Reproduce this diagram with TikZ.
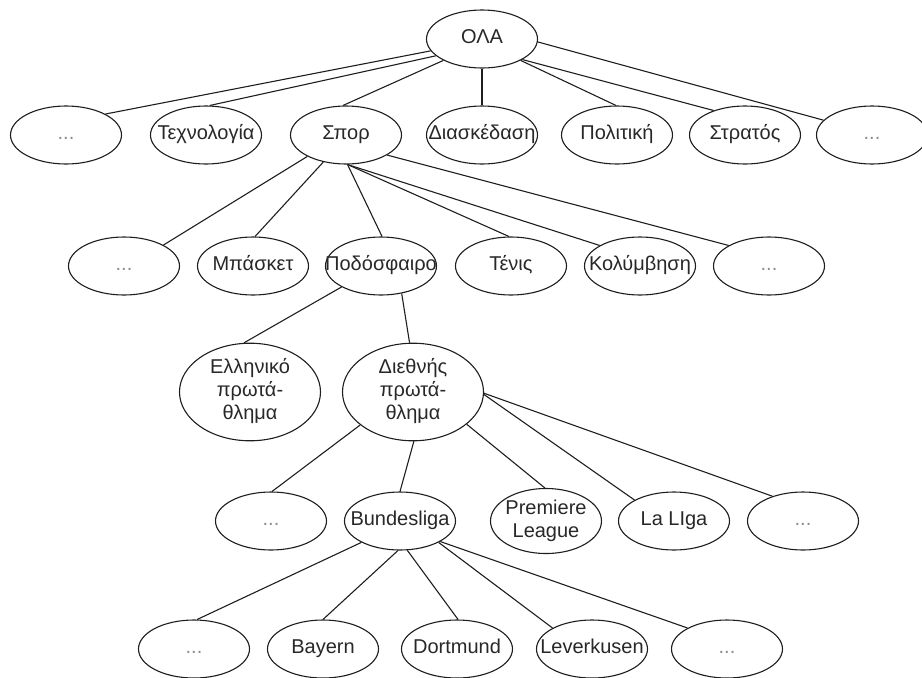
\documentclass[tikz,border=0pt]{standalone}
\usepackage{fontspec}
\setmainfont{Liberation Sans}
\usetikzlibrary{shapes.geometric}

% zero-width label so the ellipse keeps its fixed size
\newcommand{\ovtext}[1]{\makebox[0pt]{\begin{tabular}{@{}c@{}}#1\end{tabular}}}
\newcommand{\more}{\textcolor{moregray}{...}}

\definecolor{inkcol}{RGB}{30,30,30}
\definecolor{textcol}{RGB}{40,40,40}
\definecolor{moregray}{RGB}{140,140,140}

\tikzset{
  oval/.style={ellipse, draw=inkcol, line width=1.1pt, fill=white, inner sep=0pt,
               minimum width=111pt, minimum height=58pt, text=textcol,
               font=\fontsize{20}{23}\selectfont},
  bigoval/.style={oval, minimum width=141pt, minimum height=81pt},
  link/.style={draw=inkcol, line width=1.1pt}
}

\begin{document}
\begin{tikzpicture}[x=1pt, y=-1pt]
\useasboundingbox (0,0) rectangle (922,678);

% level 0
\node[oval] (ola) at (482,39) {\ovtext{ΟΛΑ}};

% level 1
\node[oval] (m1)  at (66,135)  {\ovtext{\more}};
\node[oval] (tex) at (206,135) {\ovtext{Τεχνολογία}};
\node[oval] (spo) at (346,135) {\ovtext{Σπορ}};
\node[oval] (dia) at (482,135) {\ovtext{Διασκέδαση}};
\node[oval] (pol) at (617,135) {\ovtext{Πολιτική}};
\node[oval] (str) at (745,135) {\ovtext{Στρατός}};
\node[oval] (m2)  at (872,135) {\ovtext{\more}};

% level 2
\node[oval] (m3)  at (124,266) {\ovtext{\more}};
\node[oval] (bas) at (253,266) {\ovtext{Μπάσκετ}};
\node[oval] (pod) at (381,266) {\ovtext{Ποδόσφαιρο}};
\node[oval] (ten) at (511,266) {\ovtext{Τένις}};
\node[oval] (kol) at (640,266) {\ovtext{Κολύμβηση}};
\node[oval] (m4)  at (769,266) {\ovtext{\more}};

% level 3
\node[bigoval] (ell) at (250,392) {\ovtext{Ελληνικό\\πρωτά-\\θλημα}};
\node[bigoval] (die) at (413,392) {\ovtext{Διεθνής\\πρωτά-\\θλημα}};

% level 4
\node[oval] (m5)  at (271,521) {\ovtext{\more}};
\node[oval] (bun) at (400,521) {\ovtext{Bundesliga}};
\node[oval] (pre) at (546,521) {\ovtext{Premiere\\League}};
\node[oval] (lal) at (674,521) {\ovtext{La LIga}};
\node[oval] (m6)  at (803,521) {\ovtext{\more}};

% level 5
\node[oval] (m7)  at (194,649) {\ovtext{\more}};
\node[oval] (bay) at (323,649) {\ovtext{Bayern}};
\node[oval] (dor) at (457,649) {\ovtext{Dortmund}};
\node[oval] (lev) at (592,649) {\ovtext{Leverkusen}};
\node[oval] (m8)  at (727,649) {\ovtext{\more}};

% connectors
\draw[link] (ola.193) -- (m1.28);
\draw[link] (ola.200) -- (tex.83);
\draw[link] (ola.209) -- (spo.96);
\draw[link] (ola.270) -- (dia.90);
\draw[link] (ola.331) -- (pol.92);
\draw[link] (ola.333) -- (str.142);
\draw[link] (ola.357) -- (m2.163);

\draw[link] (spo.209) -- (m3.28);
\draw[link] (spo.230) -- (bas.86);
\draw[link] (spo.273) -- (pod.88);
\draw[link] (spo.273) -- (ten.94);
\draw[link] (spo.273) -- (kol.153);
\draw[link] (spo.334) -- (m4.153);

\draw[link] (pod.208) -- (ell.97);
\draw[link] (pod.307) -- (die.94);

\draw[link] (die.212) -- (m5.88);
\draw[link] (die.271) -- (bun.90);
\draw[link] (die.329) -- (pre.92);
\draw[link] (die.358) -- (lal.152);
\draw[link] (die.359) -- (m6.141);

\draw[link] (bun.209) -- (m7.84);
\draw[link] (bun.266) -- (bay.90);
\draw[link] (bun.284) -- (dor.88);
\draw[link] (bun.331) -- (lev.152);
\draw[link] (bun.333) -- (m8.152);
\end{tikzpicture}
\end{document}
